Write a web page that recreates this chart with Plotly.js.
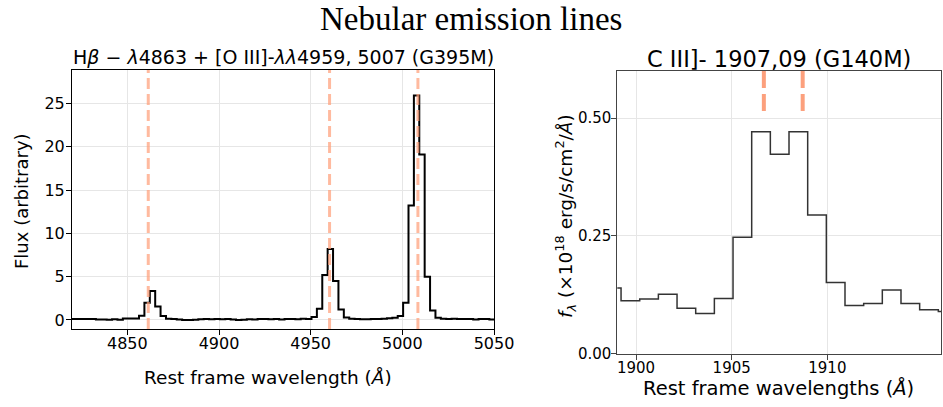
<!DOCTYPE html>
<html>
<head>
<meta charset="utf-8">
<script src="https://cdn.plot.ly/plotly-3.0.1.min.js"></script>
<style>html,body{margin:0;padding:0;background:#fff;}#chart{width:943px;height:407px;}</style>
</head>
<body>
<div id="chart"></div>
<script>
// Left panel: Hbeta + [O III] (G395M), rest-frame wavelength bin centres (Å) and flux (arbitrary)
const optWave = [4819.61,4822.55,4825.49,4828.43,4831.37,4834.31,4837.25,4840.19,4843.13,4846.07,
  4849.01,4851.95,4854.89,4857.83,4860.77,4863.71,4866.65,4869.59,4872.53,4875.47,
  4878.41,4881.35,4884.29,4887.23,4890.17,4893.11,4896.05,4898.99,4901.93,4904.87,
  4907.81,4910.75,4913.69,4916.63,4919.57,4922.51,4925.45,4928.39,4931.33,4934.27,
  4937.21,4940.15,4943.09,4946.03,4948.97,4951.91,4954.85,4957.79,4960.73,4963.67,
  4966.61,4969.55,4972.49,4975.43,4978.37,4981.31,4984.25,4987.19,4990.13,4993.07,
  4996.01,4998.95,5001.89,5004.83,5007.77,5010.71,5013.65,5016.59,5019.53,5022.47,
  5025.41,5028.35,5031.29,5034.23,5037.17,5040.11,5043.05,5045.99,5048.93,5051.87];
const optFlux = [0.10,0.10,0.12,0.12,0.11,0.05,0.05,0.04,0.08,0.02,
  0.18,0.18,0.16,0.5,2.0,3.35,1.55,0.45,0.15,0.10,
  0.05,0.0,0.0,0.02,0.08,0.12,0.08,0.10,0.08,0.10,
  0.05,0.0,0.02,0.08,0.05,0.12,0.10,0.08,0.12,0.05,
  0.10,0.12,0.08,0.15,0.10,0.35,1.3,5.2,8.2,4.5,
  1.2,0.3,0.15,0.10,0.08,0.08,0.10,0.12,0.15,0.20,
  0.25,0.45,2.0,13.2,25.9,19.1,5.0,1.1,0.25,0.15,
  0.10,0.15,0.12,0.10,0.12,0.05,0.12,0.10,0.05,0.05];
const optLines = [4861.4, 4960.3, 5008.5];

// Right panel: C III] (G140M), rest-frame wavelength bin centres (Å) and f_lambda (1e-18 erg/s/cm2/Å)
const uvWave = [1898.728,1899.704,1900.679,1901.655,1902.630,1903.606,1904.581,1905.557,1906.532,1907.508,
  1908.483,1909.459,1910.434,1911.410,1912.385,1913.361,1914.336,1915.312,1916.287];
const uvFlux = [0.139,0.112,0.116,0.126,0.096,0.085,0.117,0.247,0.471,0.423,
  0.471,0.294,0.151,0.102,0.106,0.135,0.106,0.093,0.089];
const uvLines = [1906.68, 1908.71];

const leftTicks = [4850, 4900, 4950, 5000, 5050];
const leftYTicks = [0, 5, 10, 15, 20, 25];
const rightTicks = [1900, 1905, 1910];
const rightYTicks = [0, 0.25, 0.5];

const W = 943, H = 407;
const px = v => v / W;
const py = v => 1 - v / H;
const sans = 'DejaVu Sans, sans-serif';

const traces = [
  {x: optWave, y: optFlux, xaxis: 'x', yaxis: 'y', type: 'scatter', mode: 'lines',
   line: {shape: 'hvh', color: '#000', width: 2}, hoverinfo: 'skip'},
  {x: uvWave, y: uvFlux, xaxis: 'x2', yaxis: 'y2', type: 'scatter', mode: 'lines',
   line: {shape: 'hvh', color: '#333', width: 1.5}, hoverinfo: 'skip'}
];

const shapes = [];
optLines.forEach(w => shapes.push({type: 'line', xref: 'x', yref: 'y domain', x0: w, x1: w, y0: 0, y1: 1,
  line: {color: 'rgba(255,160,122,0.72)', width: 3, dash: '11px,5px'}, layer: 'above'}));
uvLines.forEach(w => shapes.push({type: 'line', xref: 'x2', yref: 'y2', x0: w, x1: w, y0: 0.515, y1: 0.6,
  line: {color: 'rgb(252,160,125)', width: 4, dash: '17px,6px'}, layer: 'above'}));

const axBase = {showline: true, mirror: true, ticks: 'outside', ticklen: 5, tickwidth: 1,
  showgrid: true, gridcolor: '#e6e6e6', gridwidth: 1, zeroline: false, fixedrange: true};

const layout = {
  width: W, height: H,
  margin: {l: 0, r: 0, t: 0, b: 0},
  paper_bgcolor: '#fff', plot_bgcolor: '#fff',
  showlegend: false,
  xaxis: Object.assign({}, axBase, {domain: [px(72), px(494)], range: [4819.8, 5050], anchor: 'y',
    tickvals: leftTicks, ticktext: leftTicks.map(String), linecolor: '#000', tickcolor: '#000',
    ticklabelstandoff: -5,
    tickfont: {family: sans, size: 16, color: '#000'}}),
  yaxis: Object.assign({}, axBase, {domain: [1 - 329/H, 1 - 70/H], range: [-1.04, 28.85], anchor: 'x',
    tickvals: leftYTicks, ticktext: leftYTicks.map(String), linecolor: '#000', tickcolor: '#000',
    ticklabelstandoff: -2,
    tickfont: {family: sans, size: 16, color: '#000'}}),
  xaxis2: Object.assign({}, axBase, {domain: [px(617.3), px(941)], range: [1899.02, 1915.94], anchor: 'y2',
    tickvals: rightTicks, ticktext: rightTicks.map(String), linecolor: '#444', tickcolor: '#444',
    ticklabelstandoff: -5,
    tickfont: {family: sans, size: 15, color: '#000'}}),
  yaxis2: Object.assign({}, axBase, {domain: [1 - 353.5/H, 1 - 71/H], range: [0, 0.6], anchor: 'x2',
    tickvals: rightYTicks, ticktext: rightYTicks.map(v => v.toFixed(2)), linecolor: '#444', tickcolor: '#444',
    ticklabelstandoff: -3,
    tickfont: {family: sans, size: 15, color: '#000'}}),
  shapes: shapes,
  annotations: [
    {text: 'Nebular emission lines', x: px(471), y: py(19), xref: 'paper', yref: 'paper',
     xanchor: 'center', yanchor: 'middle', showarrow: false,
     font: {family: 'Liberation Serif, serif', size: 33, color: '#000'}},
    {text: 'H<i>β</i> − <i>λ</i>4863 + [O III]-<i>λλ</i>4959, 5007 (G395M)', x: px(283), y: py(57),
     xref: 'paper', yref: 'paper', xanchor: 'center', yanchor: 'middle', showarrow: false,
     font: {family: sans, size: 19, color: '#000'}},
    {text: 'C III]- 1907,09 (G140M)', x: px(779), y: py(59), xref: 'paper', yref: 'paper',
     xanchor: 'center', yanchor: 'middle', showarrow: false,
     font: {family: sans, size: 22.5, color: '#000'}},
    {text: 'Rest frame wavelength (<i>Å</i>)', x: px(268), y: py(377), xref: 'paper', yref: 'paper',
     xanchor: 'center', yanchor: 'middle', showarrow: false,
     font: {family: sans, size: 18.5, color: '#000'}},
    {text: 'Flux (arbitrary)', x: px(22), y: py(201), xref: 'paper', yref: 'paper',
     xanchor: 'center', yanchor: 'middle', showarrow: false, textangle: -90,
     font: {family: sans, size: 18, color: '#000'}},
    {text: 'Rest frame wavelengths (<i>Å</i>)', x: px(778), y: py(388), xref: 'paper', yref: 'paper',
     xanchor: 'center', yanchor: 'middle', showarrow: false,
     font: {family: sans, size: 19.5, color: '#000'}},
    {text: '<i>f</i><sub><i>λ</i></sub> (×10<sup>18</sup> erg/s/cm<sup>2</sup>/<i>Å</i>)', x: px(566), y: py(216),
     xref: 'paper', yref: 'paper', xanchor: 'center', yanchor: 'middle', showarrow: false, textangle: -90,
     font: {family: sans, size: 18.5, color: '#000'}}
  ]
};

Plotly.newPlot('chart', traces, layout, {staticPlot: true, displayModeBar: false});
</script>
</body>
</html>
